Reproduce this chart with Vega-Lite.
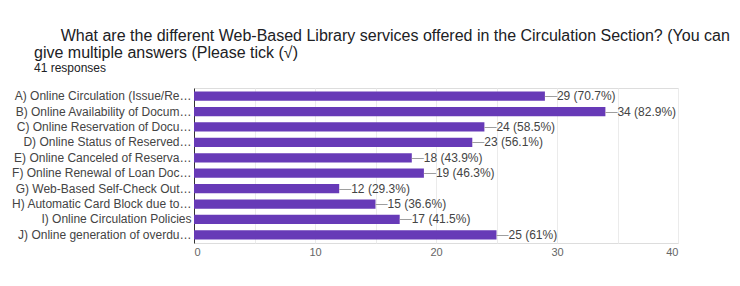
{
  "$schema": "https://vega.github.io/schema/vega-lite/v6.json",
  "width": 484,
  "height": 155,
  "autosize": {"type": "none"},
  "padding": {"left": 194, "top": 88, "right": 62, "bottom": 43},
  "background": "white",
  "title": {
    "text": ["\u200b\u00a0\u00a0\u00a0\u00a0\u00a0\u00a0What are the different Web-Based Library services offered in the Circulation Section? (You can", "give multiple answers (Please tick (\u221a)"],
    "subtitle": "41 responses",
    "anchor": "start",
    "frame": "group",
    "dx": -160,
    "offset": 14,
    "font": "Liberation Sans",
    "fontSize": 16,
    "fontWeight": "normal",
    "color": "#202124",
    "lineHeight": 17,
    "subtitleFont": "Liberation Sans",
    "subtitleFontSize": 12,
    "subtitleColor": "#202124",
    "subtitlePadding": 2
  },
  "data": {
    "values": [
      {"option": "A) Online Circulation (Issue/Re\u2026", "count": 29, "label": "29 (70.7%)"},
      {"option": "B) Online Availability of Docum\u2026", "count": 34, "label": "34 (82.9%)"},
      {"option": "C) Online Reservation of Docu\u2026", "count": 24, "label": "24 (58.5%)"},
      {"option": "D) Online Status of Reserved\u2026", "count": 23, "label": "23 (56.1%)"},
      {"option": "E) Online Canceled of Reserva\u2026", "count": 18, "label": "18 (43.9%)"},
      {"option": "F) Online Renewal of Loan Doc\u2026", "count": 19, "label": "19 (46.3%)"},
      {"option": "G) Web-Based Self-Check Out\u2026", "count": 12, "label": "12 (29.3%)"},
      {"option": "H) Automatic Card Block due to\u2026", "count": 15, "label": "15 (36.6%)"},
      {"option": "I) Online Circulation Policies", "count": 17, "label": "17 (41.5%)"},
      {"option": "J) Online generation of overdu\u2026", "count": 25, "label": "25 (61%)"}
    ]
  },
  "encoding": {
    "y": {
      "field": "option",
      "type": "nominal",
      "sort": null,
      "scale": {"paddingInner": 0.4, "paddingOuter": 0.23},
      "axis": {
        "title": null,
        "ticks": false,
        "labelPadding": 3,
        "labelLimit": 400,
        "labelFont": "Liberation Sans",
        "labelFontSize": 12,
        "labelColor": "#444444",
        "domainColor": "#333333",
        "domainWidth": 1
      }
    },
    "x": {
      "field": "count",
      "type": "quantitative",
      "scale": {"domain": [0, 40], "nice": false},
      "axis": {
        "title": null,
        "values": [0, 5, 10, 15, 20, 25, 30, 35, 40],
        "labelExpr": "datum.value % 10 === 0 ? datum.label : ''",
        "ticks": false,
        "domain": false,
        "grid": true,
        "gridColor": "#ebebeb",
        "labelPadding": 3,
        "labelFont": "Liberation Sans",
        "labelFontSize": 11,
        "labelColor": "#666666"
      }
    }
  },
  "layer": [
    {"mark": {"type": "bar", "color": "#673ab7"}},
    {
      "mark": {"type": "text", "align": "left", "baseline": "middle", "dx": 0, "font": "Liberation Sans", "fontSize": 12, "color": "#9e9e9e"},
      "encoding": {"text": {"value": "\u2014"}}
    },
    {
      "mark": {"type": "text", "align": "left", "baseline": "middle", "dx": 12, "font": "Liberation Sans", "fontSize": 12, "color": "#444444"},
      "encoding": {"text": {"field": "label"}}
    }
  ],
  "config": {
    "view": {"stroke": "#dddddd", "strokeWidth": 1}
  }
}
